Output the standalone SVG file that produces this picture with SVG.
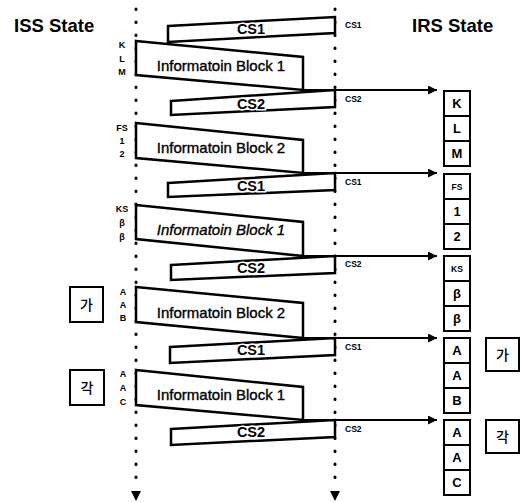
<svg xmlns="http://www.w3.org/2000/svg" width="524" height="503" viewBox="0 0 524 503">
<style>
  .shape{fill:#fff;stroke:#000;stroke-width:2.5;stroke-linejoin:miter}
  .cell{fill:#fff;stroke:#000;stroke-width:2}
  .dot{fill:none;stroke:#000;stroke-width:3;stroke-linecap:round;stroke-dasharray:0.5 12.5}
  .arr{fill:none;stroke:#000;stroke-width:2}
  .title{font-family:"Liberation Sans",Arial,sans-serif;font-weight:bold;font-size:18.5px;fill:#000}
  .cs{font-family:"Liberation Sans",Arial,sans-serif;font-weight:bold;font-size:14.5px;fill:#000;text-anchor:middle;stroke:#fff;stroke-width:3;paint-order:stroke}
  .ib{font-family:"Liberation Sans",Arial,sans-serif;font-size:15px;fill:#000;stroke:#000;stroke-width:0.35;text-anchor:middle}
  .sm{font-family:"Liberation Sans",Arial,sans-serif;font-weight:bold;font-size:8.5px;fill:#000}
  .lab{font-family:"Liberation Sans",Arial,sans-serif;font-weight:bold;font-size:9px;fill:#000;text-anchor:middle}
  .cl{font-family:"Liberation Sans",Arial,sans-serif;font-weight:bold;font-size:13px;fill:#000;text-anchor:middle}
  .cls{font-family:"Liberation Sans",Arial,sans-serif;font-weight:bold;font-size:8.5px;fill:#000;text-anchor:middle}
  .kr{font-family:"Noto Sans CJK KR",sans-serif;font-weight:500;font-size:14px;fill:#000;text-anchor:middle}
</style>
<defs>
  <marker id="ah" markerWidth="10" markerHeight="10" refX="9" refY="4.5" orient="auto" markerUnits="userSpaceOnUse">
    <path d="M0,0 L9,4.5 L0,9 Z" fill="#000"/>
  </marker>
</defs>
<rect width="524" height="503" fill="#fff"/>

<text class="title" x="14" y="32">ISS State</text>
<text class="title" x="412" y="32">IRS State</text>

<g id="timelines">
  <line class="dot" x1="136" y1="9" x2="136" y2="488"/>
  <polygon points="131,491 141,491 136,501" fill="#000"/>
  <line class="dot" x1="335" y1="9" x2="335" y2="488"/>
  <polygon points="330,491 340,491 335,501" fill="#000"/>
</g>

<g id="connectors">
  <line class="arr" x1="303" y1="90" x2="437" y2="90" marker-end="url(#ah)"/>
  <line class="arr" x1="303" y1="173" x2="437" y2="173" marker-end="url(#ah)"/>
  <line class="arr" x1="303" y1="256" x2="437" y2="256" marker-end="url(#ah)"/>
  <line class="arr" x1="303" y1="338" x2="437" y2="338" marker-end="url(#ah)"/>
  <line class="arr" x1="303" y1="420" x2="437" y2="420" marker-end="url(#ah)"/>
</g>

<g id="cs1-a">
  <polygon class="shape" points="168,26 335,17 335,33 168,42"/>
  <text class="cs" x="251" y="34">CS1</text>
  <text class="sm" x="345" y="28">CS1</text>
</g>
<g id="ib1-a">
  <polygon class="shape" points="136,41 303,57 303,90 136,75"/>
  <text class="ib" x="221" y="71">Informatoin Block 1</text>
  <text class="lab" x="122" y="48">K</text>
  <text class="lab" x="122" y="62">L</text>
  <text class="lab" x="122" y="75">M</text>
</g>
<g id="cs2-a">
  <polygon class="shape" points="171,101 335,90 335,107 171,115"/>
  <text class="cs" x="251" y="109">CS2</text>
  <text class="sm" x="345" y="102">CS2</text>
</g>
<g id="ib2-a">
  <polygon class="shape" points="136,123 303,140 303,173 136,158"/>
  <text class="ib" x="221" y="153">Informatoin Block 2</text>
  <text class="lab" x="122" y="131">FS</text>
  <text class="lab" x="122" y="144">1</text>
  <text class="lab" x="122" y="157">2</text>
</g>
<g id="cs1-b">
  <polygon class="shape" points="168,183 335,173 335,190 168,197"/>
  <text class="cs" x="251" y="191">CS1</text>
  <text class="sm" x="345" y="185">CS1</text>
</g>
<g id="ib1-b">
  <polygon class="shape" points="136,205 303,222 303,256 136,239"/>
  <text class="ib" x="221" y="235" font-style="italic">Informatoin Block 1</text>
  <text class="lab" x="122" y="212">KS</text>
  <text class="lab" x="122" y="226">β</text>
  <text class="lab" x="122" y="240">β</text>
</g>
<g id="cs2-b">
  <polygon class="shape" points="171,265 335,256 335,273 171,280"/>
  <text class="cs" x="251" y="273">CS2</text>
  <text class="sm" x="345" y="267">CS2</text>
</g>
<g id="ib2-b">
  <polygon class="shape" points="136,287 303,303 303,338 136,322"/>
  <text class="ib" x="221" y="318">Informatoin Block 2</text>
  <text class="lab" x="123" y="295">A</text>
  <text class="lab" x="123" y="308">A</text>
  <text class="lab" x="123" y="321">B</text>
</g>
<g id="cs1-c">
  <polygon class="shape" points="170,347 335,338 335,355 170,363"/>
  <text class="cs" x="251" y="355">CS1</text>
  <text class="sm" x="345" y="350">CS1</text>
</g>
<g id="ib1-c">
  <polygon class="shape" points="136,370 303,387 303,420 136,405"/>
  <text class="ib" x="221" y="400">Informatoin Block 1</text>
  <text class="lab" x="123" y="377">A</text>
  <text class="lab" x="123" y="391">A</text>
  <text class="lab" x="123" y="405">C</text>
</g>
<g id="cs2-c">
  <polygon class="shape" points="171,429 335,420 335,437 171,445"/>
  <text class="cs" x="251" y="437">CS2</text>
  <text class="sm" x="345" y="432">CS2</text>
</g>

<g id="irs-1">
  <rect class="cell" x="444" y="91" width="26" height="25"/>
  <rect class="cell" x="444" y="116" width="26" height="25"/>
  <rect class="cell" x="444" y="141" width="26" height="25"/>
  <text class="cl" x="457" y="108">K</text>
  <text class="cl" x="457" y="133">L</text>
  <text class="cl" x="457" y="158">M</text>
</g>
<g id="irs-2">
  <rect class="cell" x="444" y="174" width="26" height="25"/>
  <rect class="cell" x="444" y="199" width="26" height="25"/>
  <rect class="cell" x="444" y="224" width="26" height="25"/>
  <text class="cls" x="457" y="190">FS</text>
  <text class="cl" x="457" y="216">1</text>
  <text class="cl" x="457" y="241">2</text>
</g>
<g id="irs-3">
  <rect class="cell" x="444" y="256" width="26" height="25"/>
  <rect class="cell" x="444" y="281" width="26" height="25"/>
  <rect class="cell" x="444" y="306" width="26" height="25"/>
  <text class="cls" x="457" y="272">KS</text>
  <text class="cl" x="457" y="298">β</text>
  <text class="cl" x="457" y="323">β</text>
</g>
<g id="irs-4">
  <rect class="cell" x="444" y="338" width="26" height="25"/>
  <rect class="cell" x="444" y="363" width="26" height="25"/>
  <rect class="cell" x="444" y="388" width="26" height="25"/>
  <text class="cl" x="457" y="355">A</text>
  <text class="cl" x="457" y="380">A</text>
  <text class="cl" x="457" y="405">B</text>
</g>
<g id="irs-5">
  <rect class="cell" x="444" y="420" width="26" height="25"/>
  <rect class="cell" x="444" y="445" width="26" height="25"/>
  <rect class="cell" x="444" y="470" width="26" height="25"/>
  <text class="cl" x="457" y="437">A</text>
  <text class="cl" x="457" y="462">A</text>
  <text class="cl" x="457" y="487">C</text>
</g>

<g id="kr-left-ga">
  <rect class="cell" x="70" y="287" width="33" height="35"/>
  <text class="kr" x="86.5" y="310">가</text>
</g>
<g id="kr-left-gak">
  <rect class="cell" x="70" y="370" width="34" height="35"/>
  <text class="kr" x="87" y="393">각</text>
</g>
<g id="kr-right-ga">
  <rect class="cell" x="486" y="338" width="33" height="33"/>
  <text class="kr" x="502.5" y="360">가</text>
</g>
<g id="kr-right-gak">
  <rect class="cell" x="486" y="420" width="33" height="33"/>
  <text class="kr" x="502.5" y="442">각</text>
</g>
</svg>
